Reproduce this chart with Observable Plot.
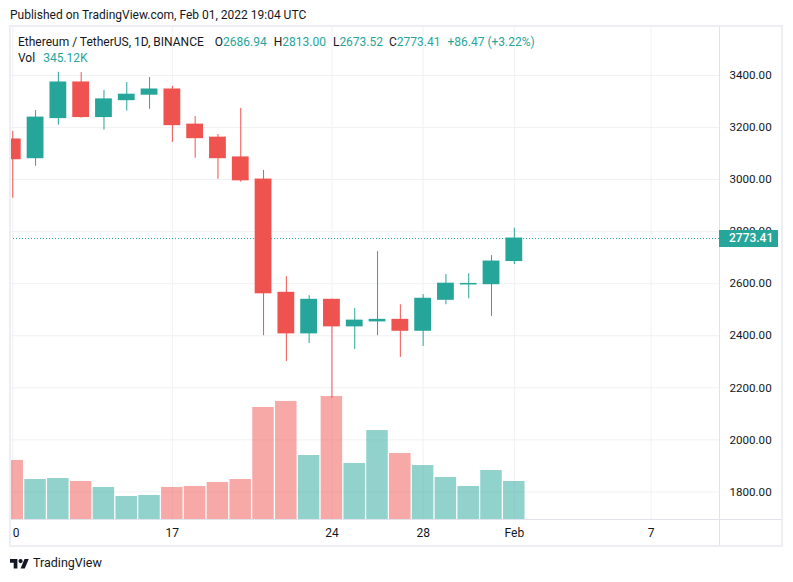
<!DOCTYPE html>
<html>
<head>
<meta charset="utf-8">
<script src="https://cdn.jsdelivr.net/npm/d3@7"></script>
<script src="https://cdn.jsdelivr.net/npm/@observablehq/plot@0.6"></script>
<style>
  html, body { margin: 0; padding: 0; background: #ffffff; }
  #page { position: relative; width: 793px; height: 582px; overflow: hidden; background: #ffffff;
          font-family: Roboto, "Noto Sans", "DejaVu Sans", sans-serif; color: #131722; }
  .layer { position: absolute; left: 10px; top: 26px; width: 772px; height: 520px; }
  .layer svg { display: block; overflow: hidden; }
  #published { position: absolute; left: 10px; top: 7px; font-size: 12px; line-height: 16px; white-space: nowrap; }
  #frame { position: absolute; left: 9px; top: 25px; width: 774px; height: 522px; box-sizing: border-box;
           border: 2px solid #eceef2; pointer-events: none; }
  #vsep { position: absolute; left: 719px; top: 26px; width: 1px; height: 520px; background: #e0e3eb; }
  #hsep { position: absolute; left: 10px; top: 519px; width: 772px; height: 1px; background: #e0e3eb; }
  #legend { position: absolute; left: 18px; top: 34px; font-size: 12px; line-height: 16px; white-space: nowrap; }
  #legend .v { color: #26a69a; }
  #legend .gap { display: inline-block; }
  #pricetag { position: absolute; left: 719px; width: 59px; height: 17px; background: #26a69a; color: #ffffff;
              font-size: 12px; font-weight: 500; line-height: 17px; box-sizing: border-box; padding-left: 10px; }
  #footer { position: absolute; left: 10px; top: 555px; height: 16px; font-size: 12.5px; line-height: 16px; white-space: nowrap; }
  #footer svg { position: absolute; left: 0; top: 4px; }
  #footer span { position: absolute; left: 23px; top: 0; }
</style>
</head>
<body>
<div id="page">
  <div id="published">Published on TradingView.com, Feb 01, 2022 19:04 UTC</div>
  <div class="layer" id="gridLayer"></div>
  <div class="layer" id="volLayer"></div>
  <div class="layer" id="candleLayer"></div>
  <div id="vsep"></div>
  <div id="hsep"></div>
  <div id="frame"></div>
  <div id="legend"></div>
  <div id="pricetag"></div>
  <div id="footer">
    <svg width="19" height="9.5" viewBox="0 4 36 18"><path d="M14 22H7V11H0V4h14v18zM28 22h-8l7.5-18h8L28 22z" fill="#131722"/><circle cx="20" cy="8" r="4" fill="#131722"/></svg>
    <span>TradingView</span>
  </div>
</div>
<script>
// ---- data ----
const symbolTitle = "Ethereum / TetherUS, 1D, BINANCE";
const dates = ["2022-01-10","2022-01-11","2022-01-12","2022-01-13","2022-01-14","2022-01-15","2022-01-16",
               "2022-01-17","2022-01-18","2022-01-19","2022-01-20","2022-01-21","2022-01-22","2022-01-23",
               "2022-01-24","2022-01-25","2022-01-26","2022-01-27","2022-01-28","2022-01-29","2022-01-30",
               "2022-01-31","2022-02-01"];
const opens  = [3154, 3082, 3236, 3373, 3240, 3305, 3326, 3346, 3211, 3161, 3085, 3000, 2565, 2409, 2538, 2436, 2455, 2461, 2419, 2538, 2597, 2598, 2686.94];
const highs  = [3185, 3265, 3412, 3411, 3342, 3373, 3392, 3358, 3242, 3173, 3273, 3035, 2627, 2554, 2541, 2504, 2723, 2519, 2558, 2635, 2638, 2708, 2813.00];
const lows   = [2928, 3051, 3209, 3236, 3190, 3263, 3270, 3143, 3082, 3001, 2990, 2400, 2301, 2370, 2160, 2347, 2400, 2317, 2359, 2519, 2542, 2474, 2673.52];
const closes = [3078, 3238, 3373, 3240, 3308, 3326, 3346, 3209, 3159, 3082, 2997, 2563, 2409, 2538, 2436, 2458, 2461, 2419, 2542, 2600, 2599, 2685, 2773.41];
const volumesK = [536, 363, 372, 345, 291, 209, 218, 291, 300, 336, 363, 1017, 1072, 581, 1117, 509, 808, 599, 490, 381, 300, 445, 345.12];
const priceTicks = [1800, 2000, 2200, 2400, 2600, 2800, 3000, 3200, 3400];
const timeTicks = ["2022-01-10","2022-01-17","2022-01-24","2022-01-28","2022-02-01","2022-02-07"];
const timeTickLabels = ["10","17","24","28","Feb","7"];
const lastChange = "+86.47 (+3.22%)";
const lastVolumeLabel = "345.12K";

// ---- build ----
const DAY = 864e5;
const teal = "#26a69a", red = "#ef5350", gridColor = "#f0f1f4";
const toDate = s => new Date(s + "T00:00:00Z");
const rows = dates.map((d, i) => ({
  date: toDate(d), open: opens[i], high: highs[i], low: lows[i], close: closes[i], vol: volumesK[i],
  color: closes[i] >= opens[i] ? teal : red
}));
const tickDates = timeTicks.map(toDate);
const tickLabelOf = new Map(tickDates.map((d, i) => [+d, timeTickLabels[i]]));
const start = d => new Date(+d - DAY / 2), end = d => new Date(+d + DAY / 2);

const W = 772, H = 520;
const margins = {marginTop: 0, marginRight: 63, marginBottom: 27, marginLeft: 0};
const xOpt = {type: "utc", domain: [new Date(+toDate(dates[0]) - 0.1 * DAY), toDate("2022-02-10")], axis: null};
const yPrice = {domain: [1694, 3588], axis: null};
const style = {background: "transparent", fontFamily: "Roboto, 'Noto Sans', sans-serif", fontSize: "12px", color: "#131722", overflow: "hidden"};

const gridPlot = Plot.plot({
  width: W, height: H, ...margins, x: xOpt, y: yPrice, style,
  marks: [
    Plot.gridY(priceTicks, {stroke: gridColor, strokeOpacity: 1}),
    Plot.gridX(tickDates, {stroke: gridColor, strokeOpacity: 1}),
    Plot.axisY(priceTicks, {anchor: "right", tickSize: 0, tickPadding: 10, fontSize: 11.6, tickFormat: d => d.toFixed(2), label: null}),
    Plot.axisX(tickDates, {anchor: "bottom", tickSize: 0, tickPadding: 9, fontSize: 12, tickFormat: d => tickLabelOf.get(+d), label: null})
  ]
});
document.getElementById("gridLayer").appendChild(gridPlot);

const volPlot = Plot.plot({
  width: W, height: H, ...margins, x: xOpt, y: {domain: [0, 4477], axis: null}, color: {type: "identity"}, style,
  marks: [
    Plot.rectY(rows, {x1: d => start(d.date), x2: d => end(d.date), y: "vol", fill: "color", fillOpacity: 0.5, insetLeft: 0.6, insetRight: 0.7})
  ]
});
document.getElementById("volLayer").appendChild(volPlot);

const lastClose = closes[closes.length - 1];
const candlePlot = Plot.plot({
  width: W, height: H, ...margins, x: xOpt, y: yPrice, color: {type: "identity"}, style,
  marks: [
    Plot.ruleY([lastClose], {stroke: teal, strokeWidth: 1, strokeDasharray: "1,2"}),
    Plot.ruleX(rows, {x: "date", y1: "low", y2: "high", stroke: "color", strokeWidth: 1}),
    Plot.rect(rows, {x1: d => start(d.date), x2: d => end(d.date), y1: "open", y2: "close", fill: "color",
                     insetLeft: 3, insetRight: 3, insetTop: -0.5, insetBottom: -0.5})
  ]
});
document.getElementById("candleLayer").appendChild(candlePlot);

// price tag on the axis, positioned with the plot's own y scale
const tagY = candlePlot.scale("y").apply(lastClose) + 26;
const tag = document.getElementById("pricetag");
tag.style.top = (tagY - 8.5) + "px";
tag.textContent = lastClose.toFixed(2);

// legend
const last = rows[rows.length - 1];
const f = v => v.toFixed(2);
document.getElementById("legend").innerHTML =
  `<div>${symbolTitle}<span class="gap" style="width:11px"></span>` +
  `O<span class="v">${f(last.open)}</span><span class="gap" style="width:7px"></span>` +
  `H<span class="v">${f(last.high)}</span><span class="gap" style="width:7px"></span>` +
  `L<span class="v">${f(last.low)}</span><span class="gap" style="width:6px"></span>` +
  `C<span class="v">${f(last.close)}</span><span class="gap" style="width:7px"></span>` +
  `<span class="v">${lastChange}</span></div>` +
  `<div>Vol<span class="gap" style="width:8px"></span><span class="v">${lastVolumeLabel}</span></div>`;
</script>
</body>
</html>
